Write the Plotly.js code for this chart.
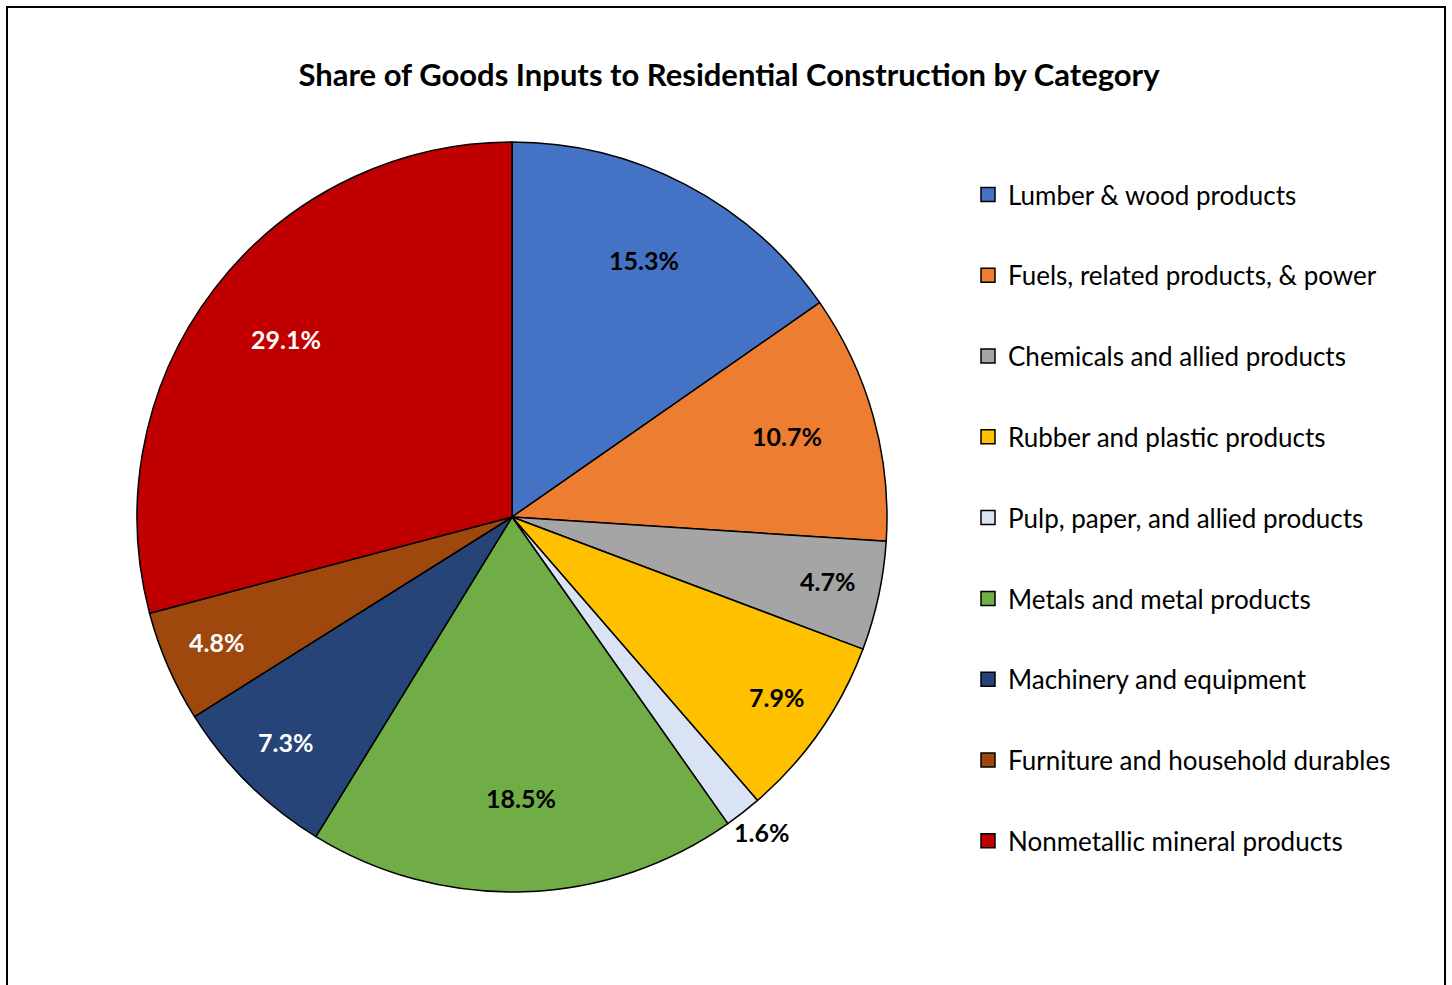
<!DOCTYPE html>
<html>
<head>
<meta charset="utf-8">
<script src="https://cdn.plot.ly/plotly-3.0.1.min.js"></script>
<style>
    html, body { margin: 0; padding: 0; overflow: hidden; background: #ffffff; }
    #plot { width: 1452px; height: 985px; }
    #frame {
        position: absolute; left: 6px; top: 6px; width: 1436px; height: 1200px;
        border: 2px solid #000000; pointer-events: none;
    }
</style>
</head>
<body>
<div id="plot"></div>
<div id="frame"></div>
<script>
const categories = [
    "Lumber & wood products",
    "Fuels, related products, & power",
    "Chemicals and allied products",
    "Rubber and plastic products",
    "Pulp, paper, and allied products",
    "Metals and metal products",
    "Machinery and equipment",
    "Furniture and household durables",
    "Nonmetallic mineral products"
];
const shares = [15.3, 10.7, 4.7, 7.9, 1.6, 18.5, 7.3, 4.8, 29.1];
const sliceColors = [
    "#4472C4", "#ED7D31", "#A5A5A5", "#FFC000", "#DAE3F3",
    "#70AD47", "#264478", "#9E480E", "#C00000"
];

const W = 1452;
const H = 985;
const cx = 512;
const cy = 517;
const r = 375;
const fontFamily = "Lato, 'Open Sans', sans-serif";

function isDark(hex) {
    const n = parseInt(hex.slice(1), 16);
    const lum = 0.299 * (n >> 16) + 0.587 * ((n >> 8) & 255) + 0.114 * (n & 255);
    return lum < 100;
}

// percentage labels placed along each slice's middle angle
function labelAnnotations() {
    const total = shares.reduce((a, b) => a + b, 0);
    let cum = 0;
    return shares.map((v, i) => {
        const theta = (cum + v / 2) / total * 2 * Math.PI;
        cum += v;
        let frac = 0.76;
        if (v < 2) frac = 1.08;
        else if (v < 10) frac = 0.86;
        const px = cx + r * frac * Math.sin(theta);
        const py = cy - r * frac * Math.cos(theta) - 4;
        return {
            x: px / W,
            y: 1 - py / H,
            xref: "paper",
            yref: "paper",
            xanchor: "center",
            yanchor: "middle",
            text: v.toFixed(1) + "%",
            showarrow: false,
            font: { family: fontFamily, size: 25, weight: 700, color: isDark(sliceColors[i]) && v >= 2 ? "#ffffff" : "#000000" }
        };
    });
}

const traces = [
    {
        type: "pie",
        labels: categories,
        values: shares,
        sort: false,
        direction: "clockwise",
        rotation: 0,
        textinfo: "none",
        hoverinfo: "label+value",
        showlegend: false,
        marker: { colors: sliceColors, line: { color: "#000000", width: 1.5 } },
        domain: {
            x: [(cx - r) / W, (cx + r) / W],
            y: [1 - (cy + r) / H, 1 - (cy - r) / H]
        }
    }
];

// legend entries, one per category, so each can sit in its own group
categories.forEach((name, i) => {
    traces.push({
        type: "scatter",
        x: [null],
        y: [null],
        mode: "markers",
        name: name,
        legendgroup: "g" + i,
        hoverinfo: "skip",
        marker: { symbol: "square", size: 14, color: sliceColors[i], line: { color: "#000000", width: 1.5 } }
    });
});

const layout = {
    width: W,
    height: H,
    margin: { t: 0, l: 0, r: 0, b: 0 },
    paper_bgcolor: "#ffffff",
    plot_bgcolor: "#ffffff",
    title: {
        text: "Share of Goods Inputs to Residential Construction by Category",
        x: 729 / W,
        xanchor: "center",
        y: 1 - 75 / H,
        yanchor: "middle",
        yref: "container",
        font: { family: fontFamily, size: 31, weight: 700, color: "#000000" }
    },
    xaxis: { visible: false },
    yaxis: { visible: false },
    showlegend: true,
    legend: {
        x: 968 / W,
        xanchor: "left",
        y: 1 - 171 / H,
        yanchor: "top",
        tracegroupgap: 44,
        font: { family: fontFamily, size: 26, color: "#000000" },
        bgcolor: "rgba(0,0,0,0)"
    },
    annotations: labelAnnotations()
};

Plotly.newPlot("plot", traces, layout, { displayModeBar: false, staticPlot: true });
</script>
</body>
</html>
